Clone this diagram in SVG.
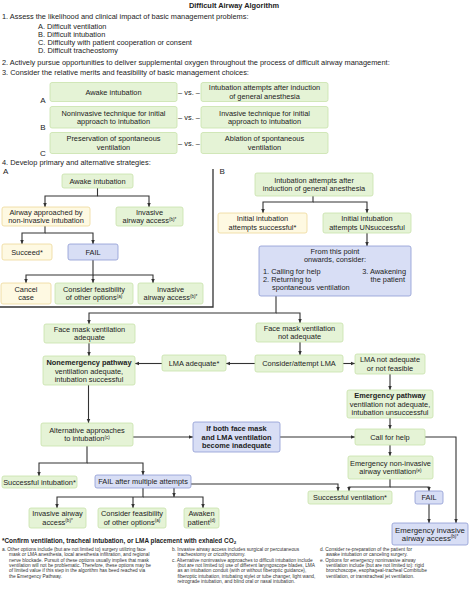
<svg xmlns="http://www.w3.org/2000/svg" width="469" height="600" viewBox="0 0 469 600">
<defs>
<style>
.t{font-family:"Liberation Sans",Arial,sans-serif;font-size:7.4px;fill:#222}
.c{text-anchor:middle}
.e{text-anchor:end}
.b{font-weight:bold}
.lbl{font-size:8px}
.sup{font-size:4.6px}
.fn{font-size:4.8px;fill:#333}
.g{fill:#e5f3d6;stroke:#c8e2ab;stroke-width:0.8}
.y{fill:#fef9e2;stroke:#eed89a;stroke-width:0.8}
.p{fill:#d8def5;stroke:#8e9bd3;stroke-width:0.8}
.ln{fill:none;stroke:#333;stroke-width:1.1}
</style>
<marker id="ah" viewBox="0 0 8 8" refX="8" refY="4" markerWidth="4.2" markerHeight="4.2" markerUnits="userSpaceOnUse" orient="auto"><path d="M0,0.5 L8,4 L0,7.5 z" fill="#333"/></marker>
</defs>
<rect width="469" height="600" fill="#fff"/>

<g id="header">
<text class="t c b" x="234" y="7.8">Difficult Airway Algorithm</text>
<text class="t" x="2" y="19.3">1. Assess the likelihood and clinical impact of basic management problems:</text>
<text class="t" x="38" y="28.6">A. Difficult ventilation</text>
<text class="t" x="38" y="36.8">B. Difficult intubation</text>
<text class="t" x="38" y="45.3">C. Difficulty with patient cooperation or consent</text>
<text class="t" x="38" y="53.4">D. Difficult tracheostomy</text>
<text class="t" x="2" y="65.3">2. Actively pursue opportunities to deliver supplemental oxygen throughout the process of difficult airway management:</text>
<text class="t" x="2" y="75.3">3. Consider the relative merits and feasibility of basic management choices:</text>
<text class="t c lbl" x="43" y="103">A</text>
<text class="t c lbl" x="43" y="129.5">B</text>
<text class="t c lbl" x="43" y="155.5">C</text>
<text class="t c" x="189" y="94.6">– vs. –</text>
<text class="t c" x="189" y="119.8">– vs. –</text>
<text class="t c" x="189" y="145.6">– vs. –</text>
<text class="t" x="2" y="164.5">4. Develop primary and alternative strategies:</text>
<text class="t lbl" x="3" y="174">A</text>
<text class="t lbl" x="219.5" y="174">B</text>
</g>

<g id="rowA-left"><rect class="g" x="50" y="82.5" width="127" height="19" rx="2"/><text class="t c" x="113.5" y="94.6">Awake intubation</text></g>
<g id="rowA-right"><rect class="g" x="201" y="82.5" width="127" height="19" rx="2"/><text class="t c" x="264.5" y="90.4">Intubation attempts after induction</text><text class="t c" x="264.5" y="98.8">of general anesthesia</text></g>
<g id="rowB-left"><rect class="g" x="50" y="106.5" width="127" height="21.5" rx="2"/><text class="t c" x="113.5" y="115.6">Noninvasive technique for initial</text><text class="t c" x="113.5" y="124">approach to intubation</text></g>
<g id="rowB-right"><rect class="g" x="201" y="106.5" width="127" height="21.5" rx="2"/><text class="t c" x="264.5" y="115.6">Invasive technique for initial</text><text class="t c" x="264.5" y="124">approach to intubation</text></g>
<g id="rowC-left"><rect class="g" x="50" y="132.5" width="127" height="21" rx="2"/><text class="t c" x="113.5" y="141.4">Preservation of spontaneous</text><text class="t c" x="113.5" y="149.8">ventilation</text></g>
<g id="rowC-right"><rect class="g" x="201" y="132.5" width="127" height="21" rx="2"/><text class="t c" x="264.5" y="141.4">Ablation of spontaneous</text><text class="t c" x="264.5" y="149.8">ventilation</text></g>

<g id="connectors">
<path class="ln" d="M0,307 H213 V169" style="stroke-width:1.3"/>
<path class="ln" marker-end="url(#ah)" d="M97.5,188 V196 H45 V207"/>
<path class="ln" marker-end="url(#ah)" d="M97.5,196 H149 V207"/>
<path class="ln" marker-end="url(#ah)" d="M45,226 V233 H22 V244"/>
<path class="ln" marker-end="url(#ah)" d="M45,233 H93 V244"/>
<path class="ln" marker-end="url(#ah)" d="M93,260 V275 H26 V283"/>
<path class="ln" marker-end="url(#ah)" d="M93,275 H153 V283"/>
<path class="ln" marker-end="url(#ah)" d="M93,275 V283"/>
<path class="ln" marker-end="url(#ah)" d="M313,196 V202 H263 V213"/>
<path class="ln" marker-end="url(#ah)" d="M313,202 H367 V213"/>
<path class="ln" marker-end="url(#ah)" d="M367,233 V246"/>
<path class="ln" marker-end="url(#ah)" d="M276,296 V313 H89 V324"/>
<path class="ln" marker-end="url(#ah)" d="M276,313 H300 V323"/>
<path class="ln" marker-end="url(#ah)" d="M300,342 V355"/>
<path class="ln" marker-end="url(#ah)" d="M343,363.5 H355"/>
<path class="ln" marker-end="url(#ah)" d="M255,363.5 H226"/>
<path class="ln" marker-end="url(#ah)" d="M162,363.5 H135"/>
<path class="ln" marker-end="url(#ah)" d="M89,343 V356"/>
<path class="ln" marker-end="url(#ah)" d="M88.5,385 V423"/>
<path class="ln" marker-end="url(#ah)" d="M133,437 H193"/>
<path class="ln" marker-end="url(#ah)" d="M280,437 H355"/>
<path class="ln" marker-end="url(#ah)" d="M390,374 V390"/>
<path class="ln" marker-end="url(#ah)" d="M390,418 V429"/>
<path class="ln" marker-end="url(#ah)" d="M425,437 H456 V523"/>
<path class="ln" marker-end="url(#ah)" d="M390,445 V456"/>
<path class="ln" marker-end="url(#ah)" d="M390,479 V487 H349 V491"/>
<path class="ln" marker-end="url(#ah)" d="M390,487 H429 V491"/>
<path class="ln" marker-end="url(#ah)" d="M429,504 V523"/>
<path class="ln" marker-end="url(#ah)" d="M256,484 H174 V497"/>
<path class="ln" marker-end="url(#ah)" d="M256,484 H338 V491"/>
<path class="ln" marker-end="url(#ah)" d="M87,446 V463 H39 V476"/>
<path class="ln" marker-end="url(#ah)" d="M87,463 H143 V475"/>
<path class="ln" marker-end="url(#ah)" d="M143,488 V497 H57 V508"/>
<path class="ln" marker-end="url(#ah)" d="M143,497 H203 V508"/>
<path class="ln" marker-end="url(#ah)" d="M133,497 V508"/>
</g>

<g id="a-awake"><rect class="g" x="62" y="174" width="71" height="14" rx="2"/><text class="t c" x="97.5" y="183.6">Awake intubation</text></g>
<g id="a-noninvasive"><rect class="y" x="2" y="207" width="88" height="19" rx="2"/><text class="t c" x="46" y="214.9">Airway approached by</text><text class="t c" x="46" y="223.3">non-invasive intubation</text></g>
<g id="a-invasive1"><rect class="g" x="116" y="207" width="67" height="19" rx="2"/><text class="t c" x="149.5" y="214.9">Invasive</text><text class="t c" x="149.5" y="223.3">airway access<tspan class="sup" dy="-2.6">(b)*</tspan></text></g>
<g id="a-succeed"><rect class="y" x="2" y="244" width="50" height="16" rx="2"/><text class="t c" x="27" y="254.6">Succeed*</text></g>
<g id="a-fail"><rect class="p" x="68" y="244" width="50" height="16" rx="2"/><text class="t c" x="93" y="254.6">FAIL</text></g>
<g id="a-cancel"><rect class="y" x="1" y="283" width="50" height="21" rx="2"/><text class="t c" x="26" y="291.9">Cancel</text><text class="t c" x="26" y="300.3">case</text></g>
<g id="a-consider"><rect class="g" x="55" y="283" width="78" height="21" rx="2"/><text class="t c" x="94" y="291.9">Consider feasibility</text><text class="t c" x="94" y="300.3">of other options<tspan class="sup" dy="-2.6">(a)</tspan></text></g>
<g id="a-invasive2"><rect class="g" x="138" y="283" width="65" height="21" rx="2"/><text class="t c" x="170.5" y="291.9">Invasive</text><text class="t c" x="170.5" y="300.3">airway access<tspan class="sup" dy="-2.6">(b)*</tspan></text></g>

<g id="b-induction"><rect class="g" x="255" y="173" width="118" height="23" rx="2"/><text class="t c" x="314" y="182.9">Intubation attempts after</text><text class="t c" x="314" y="191.3">induction of general anesthesia</text></g>
<g id="b-success"><rect class="y" x="218" y="213" width="89" height="20" rx="2"/><text class="t c" x="262.5" y="221.4">Initial intubation</text><text class="t c" x="262.5" y="229.8">attempts successful*</text></g>
<g id="b-unsuccess"><rect class="g" x="323" y="213" width="88" height="20" rx="2"/><text class="t c" x="367" y="221.4">Initial intubation</text><text class="t c" x="367" y="229.8">attempts UNsuccessful</text></g>
<g id="b-consider"><rect class="p" x="259" y="246" width="152" height="50" rx="2"/>
<text class="t c" x="335" y="253.8">From this point</text>
<text class="t c" x="335" y="262">onwards, consider:</text>
<text class="t" x="263" y="273.6">1. Calling for help</text>
<text class="t" x="263" y="281.9">2. Returning to</text>
<text class="t" x="272" y="290.2">spontaneous ventilation</text>
<text class="t e" x="406" y="273.6">3. Awakening</text>
<text class="t e" x="405" y="281.9">the patient</text>
</g>
<g id="fm-adequate"><rect class="g" x="44" y="324" width="91" height="19" rx="2"/><text class="t c" x="89.5" y="331.9">Face mask ventilation</text><text class="t c" x="89.5" y="340.3">adequate</text></g>
<g id="fm-notadequate"><rect class="g" x="256" y="323" width="87" height="19" rx="2"/><text class="t c" x="299.5" y="330.9">Face mask ventilation</text><text class="t c" x="299.5" y="339.3">not adequate</text></g>
<g id="lma-attempt"><rect class="g" x="255" y="355" width="88" height="17" rx="2"/><text class="t c" x="299" y="366.1">Consider/attempt LMA</text></g>
<g id="lma-not"><rect class="g" x="355" y="354" width="70" height="20" rx="2"/><text class="t c" x="390" y="362.4">LMA not adequate</text><text class="t c" x="390" y="370.8">or not feasible</text></g>
<g id="lma-adequate"><rect class="g" x="162" y="355" width="64" height="16" rx="2"/><text class="t c" x="194" y="365.6">LMA adequate*</text></g>
<g id="nonemergency"><rect class="g" x="43" y="356" width="92" height="29" rx="2"/><text class="t c b" x="89" y="365.3">Nonemergency pathway</text><text class="t c" x="89" y="373.6">ventilation adequate,</text><text class="t c" x="89" y="381.9">intubation successful</text></g>
<g id="alternative"><rect class="g" x="41" y="423" width="92" height="23" rx="2"/><text class="t c" x="87" y="432.9">Alternative approaches</text><text class="t c" x="87" y="441.3">to intubation<tspan class="sup" dy="-2.6">(c)</tspan></text></g>
<g id="both-inadequate"><rect class="p" x="193" y="422" width="87" height="30" rx="2"/><text class="t c b" x="236.5" y="431.3">If both face mask</text><text class="t c b" x="236.5" y="439.6">and LMA ventilation</text><text class="t c b" x="236.5" y="447.9">become inadequate</text></g>
<g id="emergency"><rect class="g" x="347" y="390" width="86" height="28" rx="2"/><text class="t c b" x="390" y="398.3">Emergency pathway</text><text class="t c" x="390" y="406.6">ventilation not adequate,</text><text class="t c" x="390" y="414.9">intubation unsuccessful</text></g>
<g id="call-help"><rect class="g" x="355" y="429" width="70" height="16" rx="2"/><text class="t c" x="390" y="439.6">Call for help</text></g>
<g id="em-noninvasive"><rect class="g" x="348" y="456" width="85" height="23" rx="2"/><text class="t c" x="390.5" y="465.9">Emergency non-invasive</text><text class="t c" x="390.5" y="474.3">airway ventilation<tspan class="sup" dy="-2.6">(e)</tspan></text></g>
<g id="succ-vent"><rect class="g" x="308" y="491" width="84" height="13" rx="2"/><text class="t c" x="350" y="500.1">Successful ventilation*</text></g>
<g id="em-fail"><rect class="p" x="415" y="491" width="28" height="13" rx="2"/><text class="t c" x="429" y="500.1">FAIL</text></g>
<g id="em-invasive"><rect class="p" x="392" y="523" width="76" height="22" rx="2"/><text class="t c" x="430" y="532.6" style="font-size:7.8px">Emergency invasive</text><text class="t c" x="430" y="541.2" style="font-size:7.8px">airway access<tspan class="sup" dy="-2.8">(b)*</tspan></text></g>
<g id="succ-intub"><rect class="g" x="2" y="476" width="75" height="12" rx="2"/><text class="t c" x="39.5" y="484.6">Successful intubation*</text></g>
<g id="fail-multiple"><rect class="p" x="95" y="475" width="96" height="13" rx="2"/><text class="t c" x="143" y="484.1">FAIL after multiple attempts</text></g>
<g id="c-invasive"><rect class="g" x="29" y="508" width="57" height="20" rx="2"/><text class="t c" x="57.5" y="516.4">Invasive airway</text><text class="t c" x="57.5" y="524.8">access<tspan class="sup" dy="-2.6">(b)*</tspan></text></g>
<g id="c-consider"><rect class="g" x="98" y="508" width="68" height="20" rx="2"/><text class="t c" x="132" y="516.4">Consider feasibility</text><text class="t c" x="132" y="524.8">of other options<tspan class="sup" dy="-2.6">(a)</tspan></text></g>
<g id="c-awaken"><rect class="g" x="184" y="508" width="35" height="20" rx="2"/><text class="t c" x="201.5" y="516.4">Awaken</text><text class="t c" x="201.5" y="524.8">patient<tspan class="sup" dy="-2.6">(d)</tspan></text></g>

<g id="footnotes">
<text class="t b" x="2" y="543" style="font-size:6.4px">*Confirm ventilation, tracheal intubation, or LMA placement with exhaled CO<tspan style="font-size:4.4px" dy="1.4">2</tspan></text>
<text class="t fn"><tspan x="2" y="551">a. Other options include (but are not limited to) surgery utilizing face</tspan><tspan x="9" y="556.3">mask or LMA anesthesia, local anesthesia infiltration, and regional</tspan><tspan x="9" y="561.6">nerve blockade. Pursuit of these options usually implies that mask</tspan><tspan x="9" y="566.9">ventilation will not be problematic. Therefore, these options may be</tspan><tspan x="9" y="572.2">of limited value if this step in the algorithm has beed reached via</tspan><tspan x="9" y="577.5">the Emergency Pathway.</tspan></text>
<text class="t fn"><tspan x="172" y="551">b. Invasive airway access includes surgical or percutaneous</tspan><tspan x="177.5" y="556.3">tracheostomy or cricothyrotomy.</tspan><tspan x="172" y="561.6">c. Alternative noninvasive approaches to difficult intubation include</tspan><tspan x="177.5" y="566.9">(but are not limited to) use of different laryngoscope blades, LMA</tspan><tspan x="177.5" y="572.2">as an intubation conduit (with or without fiberoptic guidance),</tspan><tspan x="177.5" y="577.5">fiberoptic intubation, intubating stylet or tube changer, light wand,</tspan><tspan x="177.5" y="582.8">retrograde intubation, and blind oral or nasal intubation.</tspan></text>
<text class="t fn"><tspan x="320" y="551">d. Consider re-preparation of the patient  for</tspan><tspan x="326" y="556.3">awake intubation or canceling surgery.</tspan><tspan x="320" y="561.6">e. Options for emergency noninvasive airway</tspan><tspan x="326" y="566.9">ventilation include (but are not limited to): rigid</tspan><tspan x="326" y="572.2">bronchoscope, esophageal-tracheal Combitube</tspan><tspan x="326" y="577.5">ventilation, or transtracheal jet ventilation.</tspan></text>
</g>
</svg>
